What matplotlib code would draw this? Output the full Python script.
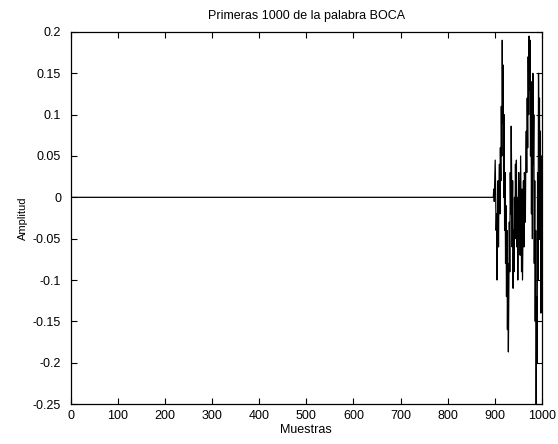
import numpy as np
import matplotlib
matplotlib.use("Agg")
import matplotlib.pyplot as plt

plt.rcParams['font.family'] = ['Liberation Sans', 'DejaVu Sans']

# senal de voz: silencio hasta la muestra 896, luego la palabra BOCA
inicio_voz = 897
amplitud_voz = [
    0.0, 0.01, -0.005, 0.02, 0.045, 0.0, -0.04, -0.02,
    -0.1, -0.03, 0.02, -0.06, 0.01, 0.04, -0.02, 0.06,
    0.02, 0.11, 0.05, 0.19, 0.09, 0.16, 0.0, 0.1,
    -0.04, 0.03, -0.08, -0.01, -0.12, -0.04, -0.16, -0.08,
    -0.187, -0.1, -0.03, -0.09, 0.03, -0.02, 0.086, 0.01,
    -0.06, 0.02, -0.11, -0.04, -0.09, 0.0, -0.05, 0.04,
    -0.02, 0.045, -0.06, 0.0, -0.1, -0.03, 0.03, -0.04,
    0.02, -0.07, 0.05, -0.02, -0.09, 0.01, -0.1, -0.04,
    0.02, -0.06, 0.03, 0.02, -0.03, 0.05, 0.08, 0.03,
    0.12, 0.06, 0.17, 0.1, 0.195, 0.13, 0.19, 0.05,
    0.14, -0.02, 0.1, -0.05, 0.15, 0.04, 0.1, -0.08,
    0.02, -0.15, -0.04, -0.25, -0.12, -0.2, 0.03, -0.1,
    0.15, 0.05, 0.12, -0.05, 0.08, -0.14, 0.05, 0.02,
]
silencio = np.zeros(inicio_voz)
senal = np.concatenate([silencio, np.array(amplitud_voz)])
muestras = np.arange(len(senal))

xticks = [0, 100, 200, 300, 400, 500, 600, 700, 800, 900, 1000]
yticks = [0.2, 0.15, 0.1, 0.05, 0, -0.05, -0.1, -0.15, -0.2, -0.25]
ytick_labels = ['0.2', '0.15', '0.1', '0.05', '0', '-0.05', '-0.1', '-0.15', '-0.2', '-0.25']

fig = plt.figure(figsize=(5.58, 4.44), dpi=100)
ax = fig.add_axes([0.127, 0.090, 0.844, 0.838])
ax.plot(muestras, senal, color='black', linewidth=0.9)

ax.set_xlim(0, 1000)
ax.set_ylim(-0.25, 0.2)
ax.set_xticks(xticks)
ax.set_xticklabels([str(t) for t in xticks])
ax.set_yticks(yticks)
ax.set_yticklabels(ytick_labels)
ax.tick_params(direction='in', top=True, right=True, length=4, width=0.8,
               labelsize=9)
ax.tick_params(axis='x', pad=4)
ax.tick_params(axis='y', pad=7)
for s in ax.spines.values():
    s.set_linewidth(0.9)

ax.set_title('Primeras 1000 de la palabra BOCA', fontsize=9, pad=9)
ax.set_xlabel('Muestras', fontsize=9, labelpad=2)
ax.set_ylabel('Amplitud', fontsize=8)
ax.yaxis.set_label_coords(-0.09, 0.5)

fig.savefig('out.png', dpi=100)
